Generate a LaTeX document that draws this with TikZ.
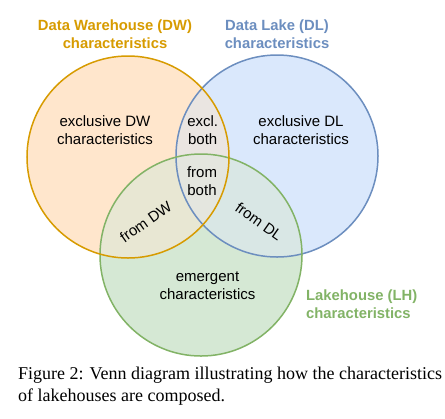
\documentclass[tikz,border=0pt]{standalone}
\usepackage{fontspec}
\setmainfont{Liberation Serif}
\newfontfamily\arialf{Liberation Sans}
\definecolor{dwfill}{HTML}{FFE6CC}
\definecolor{dlfill}{HTML}{DAE8FC}
\definecolor{lhfill}{HTML}{D5E8D4}
\definecolor{dwdl}{HTML}{EAE5E1}
\definecolor{dwlh}{HTML}{E8E7D3}
\definecolor{dllh}{HTML}{D9E7E5}
\definecolor{allthree}{HTML}{E4E6DF}
\definecolor{dwline}{HTML}{D79B00}
\definecolor{dlline}{HTML}{6C8EBF}
\definecolor{lhline}{HTML}{82B366}
\tikzset{
  lbl/.style={inner sep=0pt, align=center, font=\arialf\fontsize{15bp}{18bp}\selectfont},
  ttl/.style={inner sep=0pt, font=\arialf\bfseries\fontsize{14.8bp}{17.6bp}\selectfont},
  ring/.style={line width=1.5bp},
}
\begin{document}
\begin{tikzpicture}[x=1bp,y=-1bp]
\useasboundingbox (0,0) rectangle (445,418);
\coordinate (cdw) at (128,157);
\coordinate (cdl) at (277,156);
\coordinate (clh) at (201,255);
\def\R{101bp}
% base fills
\fill[dwfill] (cdw) circle[radius=\R];
\fill[dlfill] (cdl) circle[radius=\R];
\fill[lhfill] (clh) circle[radius=\R];
% pairwise overlaps
\begin{scope}\clip (cdw) circle[radius=\R]; \fill[dwdl] (cdl) circle[radius=\R];\end{scope}
\begin{scope}\clip (cdw) circle[radius=\R]; \fill[dwlh] (clh) circle[radius=\R];\end{scope}
\begin{scope}\clip (cdl) circle[radius=\R]; \fill[dllh] (clh) circle[radius=\R];\end{scope}
\begin{scope}\clip (cdw) circle[radius=\R]; \clip (cdl) circle[radius=\R]; \fill[allthree] (clh) circle[radius=\R];\end{scope}
% outlines
\draw[ring, dlline] (cdl) circle[radius=\R];
\draw[ring, lhline] (clh) circle[radius=\R];
\draw[ring, dwline] (cdw) circle[radius=\R];
% titles
\node[ttl, align=center, text=dwline] (tdw) at (115,36) {\strut Data Warehouse (DW)\\\strut characteristics};
\node[ttl, align=center, text=dlline] (tdl) at (277,36) {\strut Data Lake (DL)\\\strut characteristics};
\node[ttl, align=left, anchor=west, text=lhline] (tlh) at (306,306) {\strut Lakehouse (LH)\\\strut characteristics};
% region labels
\node[lbl] (exdw) at (105,132.1) {\strut exclusive DW\\\strut characteristics};
\node[lbl] (exdl) at (301,132.1) {\strut exclusive DL\\\strut characteristics};
\node[lbl] (exboth) at (202.7,132.1) {\strut excl.\\\strut both};
\node[lbl] (frboth) at (202,182.7) {\strut from\\\strut both};
\node[lbl] (emerg) at (207.5,287.1) {\strut emergent\\\strut characteristics};
\node[lbl, rotate=35] (frdw) at (145.7,221.7) {from DW};
\node[lbl, rotate=-35] (frdl) at (259,221.5) {from DL};
% caption
\node[inner sep=0pt, anchor=west, align=left, font=\fontsize{18bp}{22bp}\selectfont] (cap) at (18,385.6)
  {\strut Figure 2: Venn diagram illustrating how the characteristics\\\strut of lakehouses are composed.};
\end{tikzpicture}
\end{document}
